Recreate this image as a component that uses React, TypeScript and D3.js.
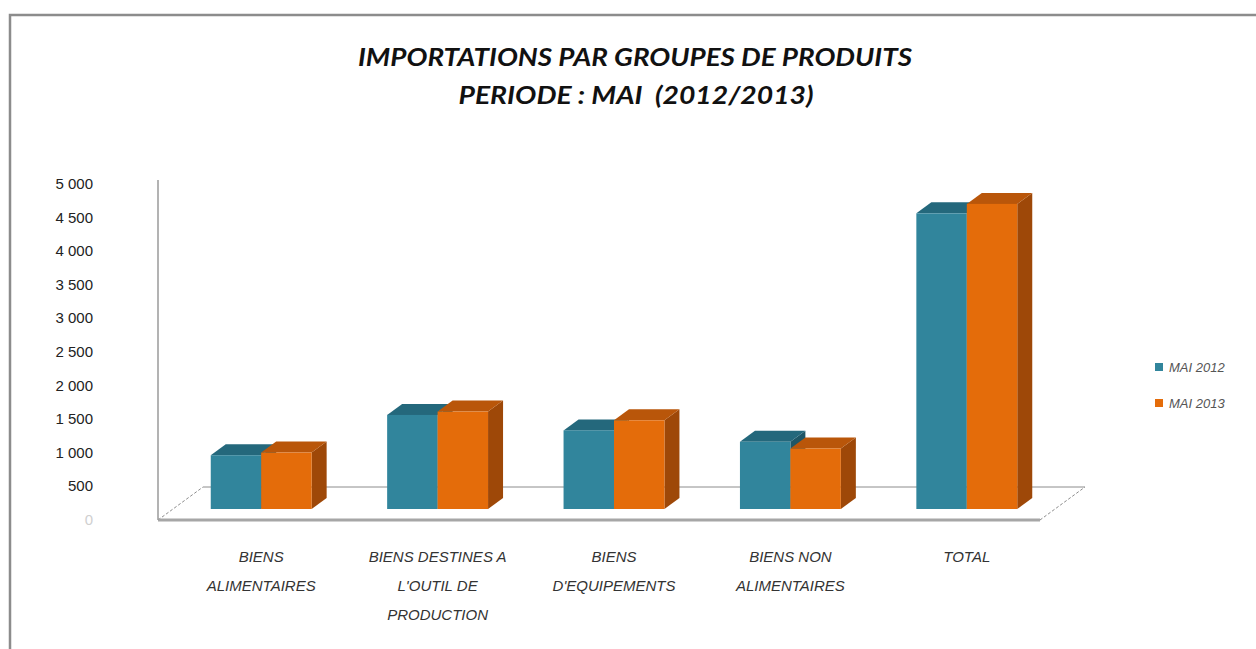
import React from "react";
import * as d3 from "d3";

const categories: string[][] = [
  ["BIENS", "ALIMENTAIRES"],
  ["BIENS DESTINES A", "L'OUTIL DE", "PRODUCTION"],
  ["BIENS", "D'EQUIPEMENTS"],
  ["BIENS NON", "ALIMENTAIRES"],
  ["TOTAL"],
];
const seriesNames = ["MAI 2012", "MAI 2013"];
const mai2012 = [800, 1400, 1170, 1000, 4400];
const mai2013 = [840, 1450, 1320, 900, 4540];
const yTicks = [0, 500, 1000, 1500, 2000, 2500, 3000, 3500, 4000, 4500, 5000];

const W = 1256;
const H = 649;
// floor geometry (front-left corner + depth offset)
const left = 158;
const right = 1040;
const floorY = 520;
const depthX = 45;
const depthY = -33;

const fronts = ["#31859C", "#E46C0A"];
const tops = ["#24687C", "#B9560A"];
const sides = ["#1E5666", "#9E4808"];

const fmt = (v: number) => d3.format(",")(v).replace(/,/g, " ");

const App: React.FC = () => {
  const keys = categories.map((c) => c.join(" "));
  const x = d3.scaleBand<string>().domain(keys).range([left, right]);
  const bw = x.bandwidth();
  const inner = d3
    .scaleBand<number>()
    .domain([0, 1])
    .range([bw * 0.214, bw * 0.786]);
  const y = d3.scaleLinear().domain([0, 5000]).range([floorY, floorY - 336]);

  const d0x = depthX / 3;
  const d0y = depthY / 3;
  const values = [mai2012, mai2013];

  const bars: React.ReactNode[] = [];
  keys.forEach((k, i) => {
    values.forEach((vals, j) => {
      const v = vals[i];
      const x0 = (x(k) || 0) + (inner(j) || 0) + d0x;
      const w = inner.bandwidth();
      const yt = y(v) + d0y;
      const yb = floorY + d0y;
      bars.push(
        <g key={`${i}-${j}`}>
          <polygon
            points={`${x0 + w},${yt} ${x0 + w + d0x},${yt + d0y} ${x0 + w + d0x},${yb + d0y} ${x0 + w},${yb}`}
            fill={sides[j]}
          />
          <polygon
            points={`${x0},${yt} ${x0 + w},${yt} ${x0 + w + d0x},${yt + d0y} ${x0 + d0x},${yt + d0y}`}
            fill={tops[j]}
          />
          <rect x={x0} y={yt} width={w} height={yb - yt} fill={fronts[j]} />
        </g>
      );
    });
  });

  return (
    <svg width={W} height={H} style={{ position: "absolute", left: 0, top: 0, background: "#fff" }}>
      <rect x={0} y={0} width={W} height={H} fill="#fff" />
      <path d={`M10,${H} V15 H${W}`} fill="none" stroke="#8c8c8c" strokeWidth={2.5} />

      <g fontFamily="Lato, 'Open Sans', sans-serif" fontWeight="bold" fontStyle="italic" fontSize={25} fill="#111" textAnchor="middle">
        <text x={635} y={66} textLength={554} lengthAdjust="spacingAndGlyphs">
          IMPORTATIONS PAR GROUPES DE PRODUITS
        </text>
        <text x={636} y={104} textLength={355} lengthAdjust="spacingAndGlyphs" xmlSpace="preserve">
          PERIODE : MAI  (2012/2013)
        </text>
      </g>

      {/* floor */}
      <line x1={left + depthX} y1={floorY + depthY} x2={right + depthX} y2={floorY + depthY} stroke="#8c8c8c" strokeWidth={1} />
      <line x1={left} y1={floorY} x2={left + depthX} y2={floorY + depthY} stroke="#8c8c8c" strokeWidth={1} strokeDasharray="3,2" />
      <line x1={right} y1={floorY} x2={right + depthX} y2={floorY + depthY} stroke="#8c8c8c" strokeWidth={1} strokeDasharray="3,2" />
      <line x1={left} y1={floorY} x2={right} y2={floorY} stroke="#a6a6a6" strokeWidth={3} />
      <line x1={left} y1={180} x2={left} y2={floorY} stroke="#9a9a9a" strokeWidth={1.5} />

      {bars}

      <g fontFamily="'Liberation Sans Narrow', 'Liberation Sans', sans-serif" fontSize={15} textAnchor="end">
        {yTicks.map((t) => (
          <text key={t} x={93} y={y(t) + 5} fill={t === 0 ? "#d0d0d0" : "#222"}>
            {fmt(t)}
          </text>
        ))}
      </g>

      <g fontFamily="'Liberation Sans Narrow', 'Liberation Sans', sans-serif" fontStyle="italic" fontSize={15} fill="#333" textAnchor="middle">
        {categories.map((lines, i) => (
          <text key={i} x={(x(keys[i]) || 0) + bw / 2 + d0x} y={562}>
            {lines.map((l, li) => (
              <tspan key={li} x={(x(keys[i]) || 0) + bw / 2 + d0x} dy={li === 0 ? 0 : 29}>
                {l}
              </tspan>
            ))}
          </text>
        ))}
      </g>

      <g fontFamily="'Liberation Sans Narrow', 'Liberation Sans', sans-serif" fontStyle="italic" fontSize={13} fill="#555">
        {seriesNames.map((s, j) => (
          <g key={s} transform={`translate(1155,${363 + j * 36})`}>
            <rect x={0} y={0} width={8} height={8} fill={fronts[j]} />
            <text x={14} y={9}>{s}</text>
          </g>
        ))}
      </g>
    </svg>
  );
};

export default App;
